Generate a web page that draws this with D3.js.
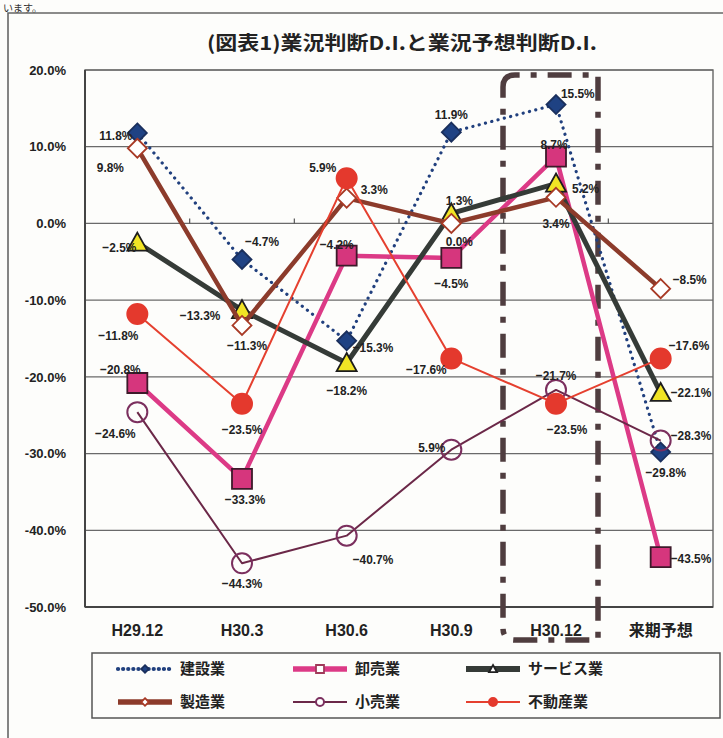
<!DOCTYPE html>
<html>
<head>
<meta charset="utf-8">
<script src="https://cdn.jsdelivr.net/npm/d3@7"></script>
<style>
  html, body { margin: 0; padding: 0; background: #fdfdfb; }
  svg { display: block; }
</style>
</head>
<body>
<svg id="chart" width="723" height="738"></svg>
<script>
// Survey periods (last column is the outlook for next quarter)
const categories = ["H29.12", "H30.3", "H30.6", "H30.9", "H30.12", "来期予想"];

// Business conditions D.I. by industry (%)
const construction = [11.8, -4.7, -15.3, 11.9, 15.5, -29.8];   // 建設業
const wholesale    = [-20.8, -33.3, -4.2, -4.5, 8.7, -43.5];   // 卸売業
const services     = [-2.5, -11.3, -18.2, 1.3, 5.2, -22.1];    // サービス業
const manufacturing = [9.8, -13.3, 3.3, 0.0, 3.4, -8.5];       // 製造業
const retail       = [-24.6, -44.3, -40.7, -29.5, -21.7, -28.3]; // 小売業
const realEstate   = [-11.8, -23.5, 5.9, -17.6, -23.5, -17.6]; // 不動産業

// Printed label text that differs from the formatted value
const retailLabelText = { 3: "5.9%" };

const yTicks = [20, 10, 0, -10, -20, -30, -40, -50];

const fmt = v => (v < 0 ? "\u2212" + Math.abs(v).toFixed(1) : v.toFixed(1)) + "%";

const svg = d3.select("#chart");
const NUM_FONT = "'Liberation Sans', Arial, sans-serif";
const JP_FONT = "'Noto Sans CJK JP', sans-serif";

// page fragment above the figure and the figure frame
svg.append("text").attr("x", 3).attr("y", 12)
  .attr("font-family", JP_FONT).attr("font-size", 10).attr("fill", "#333")
  .text("います。");
svg.append("path").attr("d", "M8,738 V13 H723")
  .attr("fill", "none").attr("stroke", "#666").attr("stroke-width", 1.6);

// title
svg.append("text").attr("x", 207).attr("y", 50)
  .attr("font-family", JP_FONT).attr("font-weight", "bold").attr("font-size", 19)
  .attr("textLength", 390).attr("lengthAdjust", "spacingAndGlyphs")
  .attr("fill", "#222")
  .text("(図表1)業況判断D.I.と業況予想判断D.I.");

// scales
const plot = { left: 85, right: 713, top: 70, bottom: 607 };
const x = d3.scaleBand().domain(categories).range([plot.left, plot.right]);
const cx = c => x(c) + x.bandwidth() / 2;
const y = d3.scaleLinear().domain([-50, 20]).range([plot.bottom, plot.top]);

// gridlines
svg.append("g").selectAll("line").data(yTicks).join("line")
  .attr("x1", plot.left).attr("x2", plot.right)
  .attr("y1", d => y(d)).attr("y2", d => y(d))
  .attr("stroke", "#6a6a6a").attr("stroke-width", 1.2);

// plot frame
svg.append("rect").attr("x", plot.left).attr("y", plot.top)
  .attr("width", plot.right - plot.left).attr("height", plot.bottom - plot.top)
  .attr("fill", "none").attr("stroke", "#666").attr("stroke-width", 1.4);
svg.append("line").attr("x1", plot.left).attr("x2", plot.left)
  .attr("y1", plot.top).attr("y2", plot.bottom).attr("stroke", "#444").attr("stroke-width", 2);
svg.append("line").attr("x1", plot.left).attr("x2", plot.right)
  .attr("y1", plot.bottom).attr("y2", plot.bottom).attr("stroke", "#444").attr("stroke-width", 2);

// y axis
const yAxis = d3.axisLeft(y).tickValues(yTicks).tickSize(0).tickPadding(19)
  .tickFormat(d => (d < 0 ? "-" : "") + Math.abs(d).toFixed(1) + "%");
const gy = svg.append("g").attr("transform", `translate(${plot.left},0)`).call(yAxis);
gy.select(".domain").remove();
gy.selectAll("text").attr("font-family", NUM_FONT).attr("font-weight", "bold")
  .attr("font-size", 13).attr("fill", "#222");

// category axis crossing at zero, ticks between categories
const boundaries = categories.slice(1).map(c => x(c));
svg.append("g").selectAll("line").data(boundaries).join("line")
  .attr("x1", d => d).attr("x2", d => d)
  .attr("y1", y(0)).attr("y2", y(0) - 5)
  .attr("stroke", "#555").attr("stroke-width", 1.2);

// dash-dot enclosure around the latest survey period
const encl = { x0: 503, x1: 598, y0: 75, y1: 640, r: 12 };
svg.append("path")
  .attr("d", `M${encl.x0},${encl.y0 + encl.r} Q${encl.x0},${encl.y0} ${encl.x0 + encl.r},${encl.y0}` +
             ` H${encl.x1} V${encl.y1} H${encl.x0 + encl.r} Q${encl.x0},${encl.y1} ${encl.x0},${encl.y1 - encl.r} Z`)
  .attr("fill", "none").attr("stroke", "#4f3d3f").attr("stroke-width", 5.5)
  .attr("stroke-dasharray", "24,11,6,11");

// category labels
const xAxis = d3.axisBottom(x).tickSize(0).tickPadding(18);
const gx = svg.append("g").attr("transform", `translate(0,${plot.bottom})`).call(xAxis);
gx.select(".domain").remove();
gx.selectAll("text").attr("font-family", d => d === "来期予想" ? JP_FONT : NUM_FONT)
  .attr("font-weight", "bold").attr("font-size", 16).attr("fill", "#222");

// series definitions
const series = [
  { name: "建設業", values: construction, color: "#21407e", width: 3.2, dash: "0.1,6.4", cap: "round",
    marker: "diamond", size: 19, fill: "#1f4283", stroke: "#1a2f5c" },
  { name: "卸売業", values: wholesale, color: "#dc3a86", width: 4.5, marker: "square", size: 20,
    fill: "#d6367d", stroke: "#3d1a2a" },
  { name: "サービス業", values: services, color: "#353b37", width: 5, marker: "triangle", size: 20,
    fill: "#f1e425", stroke: "#1d1d1d" },
  { name: "製造業", values: manufacturing, color: "#8c3b2b", width: 4.5, marker: "diamond", size: 19,
    fill: "#ffffff", stroke: "#a83a26" },
  { name: "小売業", values: retail, color: "#6b2848", width: 2, marker: "circle", size: 10,
    fill: "none", stroke: "#7b2f5e" },
  { name: "不動産業", values: realEstate, color: "#e5402f", width: 2, marker: "circle", size: 10,
    fill: "#e4392d", stroke: "#e4392d" }
];

function markerPath(type, s) {
  const h = s / 2;
  if (type === "diamond") return `M0,${-h} L${h},0 L0,${h} L${-h},0 Z`;
  if (type === "square") return `M${-h},${-h} H${h} V${h} H${-h} Z`;
  if (type === "triangle") return `M0,${-h} L${h},${h * 0.8} L${-h},${h * 0.8} Z`;
  return null;
}

function drawMarker(g, s, px, py, scale = 1) {
  if (s.marker === "circle") {
    g.append("circle").attr("cx", px).attr("cy", py).attr("r", s.size * scale)
      .attr("fill", s.fill).attr("stroke", s.stroke).attr("stroke-width", 2);
  } else {
    g.append("path").attr("d", markerPath(s.marker, s.size * scale))
      .attr("transform", `translate(${px},${py})`)
      .attr("fill", s.fill).attr("stroke", s.stroke).attr("stroke-width", 1.8);
  }
}

const line = d3.line().x((d, i) => cx(categories[i])).y(d => y(d));

series.forEach(s => {
  const g = svg.append("g");
  g.append("path").datum(s.values).attr("d", line)
    .attr("fill", "none").attr("stroke", s.color).attr("stroke-width", s.width)
    .attr("stroke-dasharray", s.dash || null).attr("stroke-linecap", s.cap || "butt")
    .attr("stroke-linejoin", "round");
  s.values.forEach((v, i) => drawMarker(g, s, cx(categories[i]), y(v)));
});

// data label offsets (dx, dy from the point, anchor)
const labelPos = {
  "建設業":   [[-5, 2, "end"], [3, -18, "start"], [6, 6, "start"], [0, -18, "middle"], [5, -12, "start"], [5, 20, "middle"]],
  "卸売業":   [[-17, -14, "middle"], [3, 20, "middle"], [-10, -12, "middle"], [0, 25, "middle"], [-2, -13, "middle"], [10, 1, "start"]],
  "サービス業": [[-18, 4, "middle"], [5, 35, "middle"], [0, 27, "middle"], [8, -13, "middle"], [16, 4, "start"], [10, -1, "start"]],
  "製造業":   [[-27, 19, "middle"], [-42, -10, "middle"], [14, -9, "start"], [8, 18, "middle"], [0, 26, "middle"], [12, -10, "start"]],
  "小売業":   [[-22, 21, "middle"], [0, 20, "middle"], [6, 23, "start"], [-6, -3, "end"], [0, -15, "middle"], [10, -6, "start"]],
  "不動産業": [[-19, 21, "middle"], [0, 25, "middle"], [-24, -11, "middle"], [-25, 11, "middle"], [11, 25, "middle"], [8, -13, "start"]]
};

// narrow bold value labels
const labels = svg.append("g");
series.forEach(s => {
  s.values.forEach((v, i) => {
    const [dx, dy, anchor] = labelPos[s.name][i];
    const text = (s.values === retail && retailLabelText[i]) ? retailLabelText[i] : fmt(v);
    labels.append("text")
      .attr("transform", `translate(${cx(categories[i]) + dx},${y(v) + dy + 5}) scale(0.88,1)`)
      .attr("text-anchor", anchor)
      .attr("font-family", NUM_FONT).attr("font-weight", "bold").attr("font-size", 13.5)
      .attr("fill", "#222").text(text);
  });
});

// legend
const legend = svg.append("g");
legend.append("rect").attr("x", 92).attr("y", 653).attr("width", 628).attr("height", 65)
  .attr("fill", "#fdfdfb").attr("stroke", "#555").attr("stroke-width", 1.5);
const legendCols = [118, 293, 466];
const legendRows = [669, 702];
series.forEach((s, i) => {
  const col = legendCols[i % 3], row = legendRows[Math.floor(i / 3)];
  const lg = legend.append("g");
  lg.append("line").attr("x1", col).attr("x2", col + 54).attr("y1", row).attr("y2", row)
    .attr("stroke", s.color).attr("stroke-width", s.width + (s.marker === "circle" ? 0 : 1))
    .attr("stroke-dasharray", s.dash ? "0.1,5" : null).attr("stroke-linecap", s.cap || "butt");
  const sm = Object.assign({}, s);
  if (s.name === "卸売業") { sm.fill = "#fff"; sm.stroke = "#a03a5a"; }
  if (s.name === "サービス業") { sm.fill = "#fff"; sm.stroke = "#222"; }
  if (s.name === "小売業") { sm.fill = "#fff"; }
  drawMarker(lg, sm, col + 27, row, 0.4);
  lg.append("text").attr("x", col + 62).attr("y", row + 5)
    .attr("font-family", JP_FONT).attr("font-weight", "bold").attr("font-size", 15)
    .attr("fill", "#222").text(s.name);
});
</script>
</body>
</html>
